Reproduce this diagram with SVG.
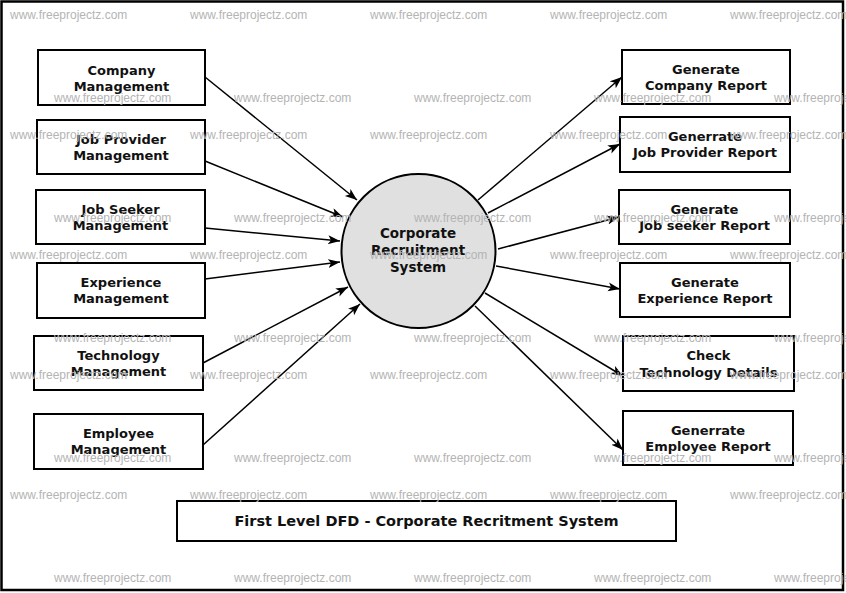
<svg xmlns="http://www.w3.org/2000/svg" width="846" height="593" viewBox="0 0 846 593">
<defs>
<style>
.box{fill:#ffffff;stroke:#000000;stroke-width:2}
.lbl{font-family:"DejaVu Sans","Liberation Sans",sans-serif;font-weight:bold;font-size:13px;fill:#111111;text-anchor:middle}
.ctr{font-family:"DejaVu Sans","Liberation Sans",sans-serif;font-weight:bold;font-size:13.5px;fill:#111111;text-anchor:middle}
.ttl{font-family:"DejaVu Sans","Liberation Sans",sans-serif;font-weight:bold;font-size:14.5px;fill:#111111;text-anchor:middle}
.flow{stroke:#000000;stroke-width:1.5;fill:none;marker-end:url(#arr)}
.wm{font-family:"Liberation Sans",Arial,sans-serif;font-size:12px;fill:#b4b4b4}
</style>
<marker id="arr" markerUnits="userSpaceOnUse" markerWidth="14" markerHeight="11" refX="12" refY="4.5" orient="auto">
<path d="M0,0 L12,4.5 L0,9 L3,4.5 Z" fill="#000000"/>
</marker>
</defs>
<rect x="0" y="0" width="846" height="593" fill="#ffffff"/>
<rect x="1.5" y="1.5" width="841.5" height="588.5" fill="none" stroke="#000000" stroke-width="2.5"/>

<g id="connectors">
<line class="flow" x1="205" y1="77" x2="357" y2="200"/>
<line class="flow" x1="205" y1="161" x2="343" y2="217"/>
<line class="flow" x1="205" y1="228" x2="340" y2="241"/>
<line class="flow" x1="205" y1="279" x2="340" y2="262"/>
<line class="flow" x1="203" y1="363" x2="348" y2="287"/>
<line class="flow" x1="203" y1="445" x2="360" y2="304"/>
<line class="flow" x1="478" y1="200" x2="622" y2="77"/>
<line class="flow" x1="488" y1="213" x2="620" y2="144"/>
<line class="flow" x1="498" y1="249" x2="619" y2="217"/>
<line class="flow" x1="496" y1="266" x2="620" y2="289"/>
<line class="flow" x1="485" y1="293" x2="623" y2="376"/>
<line class="flow" x1="475" y1="306" x2="623" y2="450"/>
</g>

<g id="process">
<circle cx="418.5" cy="251" r="77" fill="#e0e0e0" stroke="#000000" stroke-width="2"/>
<text class="ctr" x="418" y="238">Corporate</text>
<text class="ctr" x="418" y="255">Recruitment</text>
<text class="ctr" x="418" y="272">System</text>
</g>

<g id="company-mgmt">
<rect class="box" x="38" y="50" width="167" height="55"/>
<text class="lbl" x="121.5" y="75">Company</text>
<text class="lbl" x="121.5" y="91">Management</text>
</g>
<g id="jobprovider-mgmt">
<rect class="box" x="37" y="120" width="168" height="54"/>
<text class="lbl" x="121" y="144">Job Provider</text>
<text class="lbl" x="121" y="160">Management</text>
</g>
<g id="jobseeker-mgmt">
<rect class="box" x="36" y="190" width="169" height="54"/>
<text class="lbl" x="120.5" y="214">Job Seeker</text>
<text class="lbl" x="120.5" y="230">Management</text>
</g>
<g id="experience-mgmt">
<rect class="box" x="37" y="263" width="168" height="55"/>
<text class="lbl" x="121" y="287">Experience</text>
<text class="lbl" x="121" y="303">Management</text>
</g>
<g id="technology-mgmt">
<rect class="box" x="34" y="336" width="169" height="54"/>
<text class="lbl" x="118.5" y="360">Technology</text>
<text class="lbl" x="118.5" y="376">Management</text>
</g>
<g id="employee-mgmt">
<rect class="box" x="34" y="414" width="169" height="55"/>
<text class="lbl" x="118.5" y="438">Employee</text>
<text class="lbl" x="118.5" y="454">Management</text>
</g>

<g id="company-report">
<rect class="box" x="622" y="50" width="168" height="54"/>
<text class="lbl" x="706" y="74">Generate</text>
<text class="lbl" x="706" y="90">Company Report</text>
</g>
<g id="jobprovider-report">
<rect class="box" x="620" y="117" width="170" height="55"/>
<text class="lbl" x="705" y="141">Generrate</text>
<text class="lbl" x="705" y="157">Job Provider Report</text>
</g>
<g id="jobseeker-report">
<rect class="box" x="619" y="190" width="171" height="54"/>
<text class="lbl" x="704.5" y="214">Generate</text>
<text class="lbl" x="704.5" y="230">Job seeker Report</text>
</g>
<g id="experience-report">
<rect class="box" x="620" y="263" width="170" height="54"/>
<text class="lbl" x="705" y="287">Generate</text>
<text class="lbl" x="705" y="303">Experience Report</text>
</g>
<g id="technology-check">
<rect class="box" x="623" y="336" width="171" height="55"/>
<text class="lbl" x="708.5" y="360">Check</text>
<text class="lbl" x="708.5" y="377">Technology Details</text>
</g>
<g id="employee-report">
<rect class="box" x="623" y="411" width="170" height="54"/>
<text class="lbl" x="708" y="435">Generrate</text>
<text class="lbl" x="708" y="451">Employee Report</text>
</g>

<g id="title">
<rect class="box" x="177" y="501" width="499" height="40"/>
<text class="ttl" x="426.5" y="526">First Level DFD - Corporate Recritment System</text>
</g>

<g id="watermark">
<text class="wm" x="10" y="19">www.freeprojectz.com</text>
<text class="wm" x="190" y="19">www.freeprojectz.com</text>
<text class="wm" x="370" y="19">www.freeprojectz.com</text>
<text class="wm" x="550" y="19">www.freeprojectz.com</text>
<text class="wm" x="730" y="19">www.freeprojectz.com</text>
<text class="wm" x="54" y="102">www.freeprojectz.com</text>
<text class="wm" x="234" y="102">www.freeprojectz.com</text>
<text class="wm" x="414" y="102">www.freeprojectz.com</text>
<text class="wm" x="594" y="102">www.freeprojectz.com</text>
<text class="wm" x="774" y="102">www.freeprojectz.com</text>
<text class="wm" x="10" y="139">www.freeprojectz.com</text>
<text class="wm" x="190" y="139">www.freeprojectz.com</text>
<text class="wm" x="370" y="139">www.freeprojectz.com</text>
<text class="wm" x="550" y="139">www.freeprojectz.com</text>
<text class="wm" x="730" y="139">www.freeprojectz.com</text>
<text class="wm" x="54" y="222">www.freeprojectz.com</text>
<text class="wm" x="234" y="222">www.freeprojectz.com</text>
<text class="wm" x="414" y="222">www.freeprojectz.com</text>
<text class="wm" x="594" y="222">www.freeprojectz.com</text>
<text class="wm" x="774" y="222">www.freeprojectz.com</text>
<text class="wm" x="10" y="259">www.freeprojectz.com</text>
<text class="wm" x="190" y="259">www.freeprojectz.com</text>
<text class="wm" x="370" y="259">www.freeprojectz.com</text>
<text class="wm" x="550" y="259">www.freeprojectz.com</text>
<text class="wm" x="730" y="259">www.freeprojectz.com</text>
<text class="wm" x="54" y="342">www.freeprojectz.com</text>
<text class="wm" x="234" y="342">www.freeprojectz.com</text>
<text class="wm" x="414" y="342">www.freeprojectz.com</text>
<text class="wm" x="594" y="342">www.freeprojectz.com</text>
<text class="wm" x="774" y="342">www.freeprojectz.com</text>
<text class="wm" x="10" y="379">www.freeprojectz.com</text>
<text class="wm" x="190" y="379">www.freeprojectz.com</text>
<text class="wm" x="370" y="379">www.freeprojectz.com</text>
<text class="wm" x="550" y="379">www.freeprojectz.com</text>
<text class="wm" x="730" y="379">www.freeprojectz.com</text>
<text class="wm" x="54" y="462">www.freeprojectz.com</text>
<text class="wm" x="234" y="462">www.freeprojectz.com</text>
<text class="wm" x="414" y="462">www.freeprojectz.com</text>
<text class="wm" x="594" y="462">www.freeprojectz.com</text>
<text class="wm" x="774" y="462">www.freeprojectz.com</text>
<text class="wm" x="10" y="499">www.freeprojectz.com</text>
<text class="wm" x="190" y="499">www.freeprojectz.com</text>
<text class="wm" x="370" y="499">www.freeprojectz.com</text>
<text class="wm" x="550" y="499">www.freeprojectz.com</text>
<text class="wm" x="730" y="499">www.freeprojectz.com</text>
<text class="wm" x="54" y="582">www.freeprojectz.com</text>
<text class="wm" x="234" y="582">www.freeprojectz.com</text>
<text class="wm" x="414" y="582">www.freeprojectz.com</text>
<text class="wm" x="594" y="582">www.freeprojectz.com</text>
<text class="wm" x="774" y="582">www.freeprojectz.com</text>
</g>
</svg>
